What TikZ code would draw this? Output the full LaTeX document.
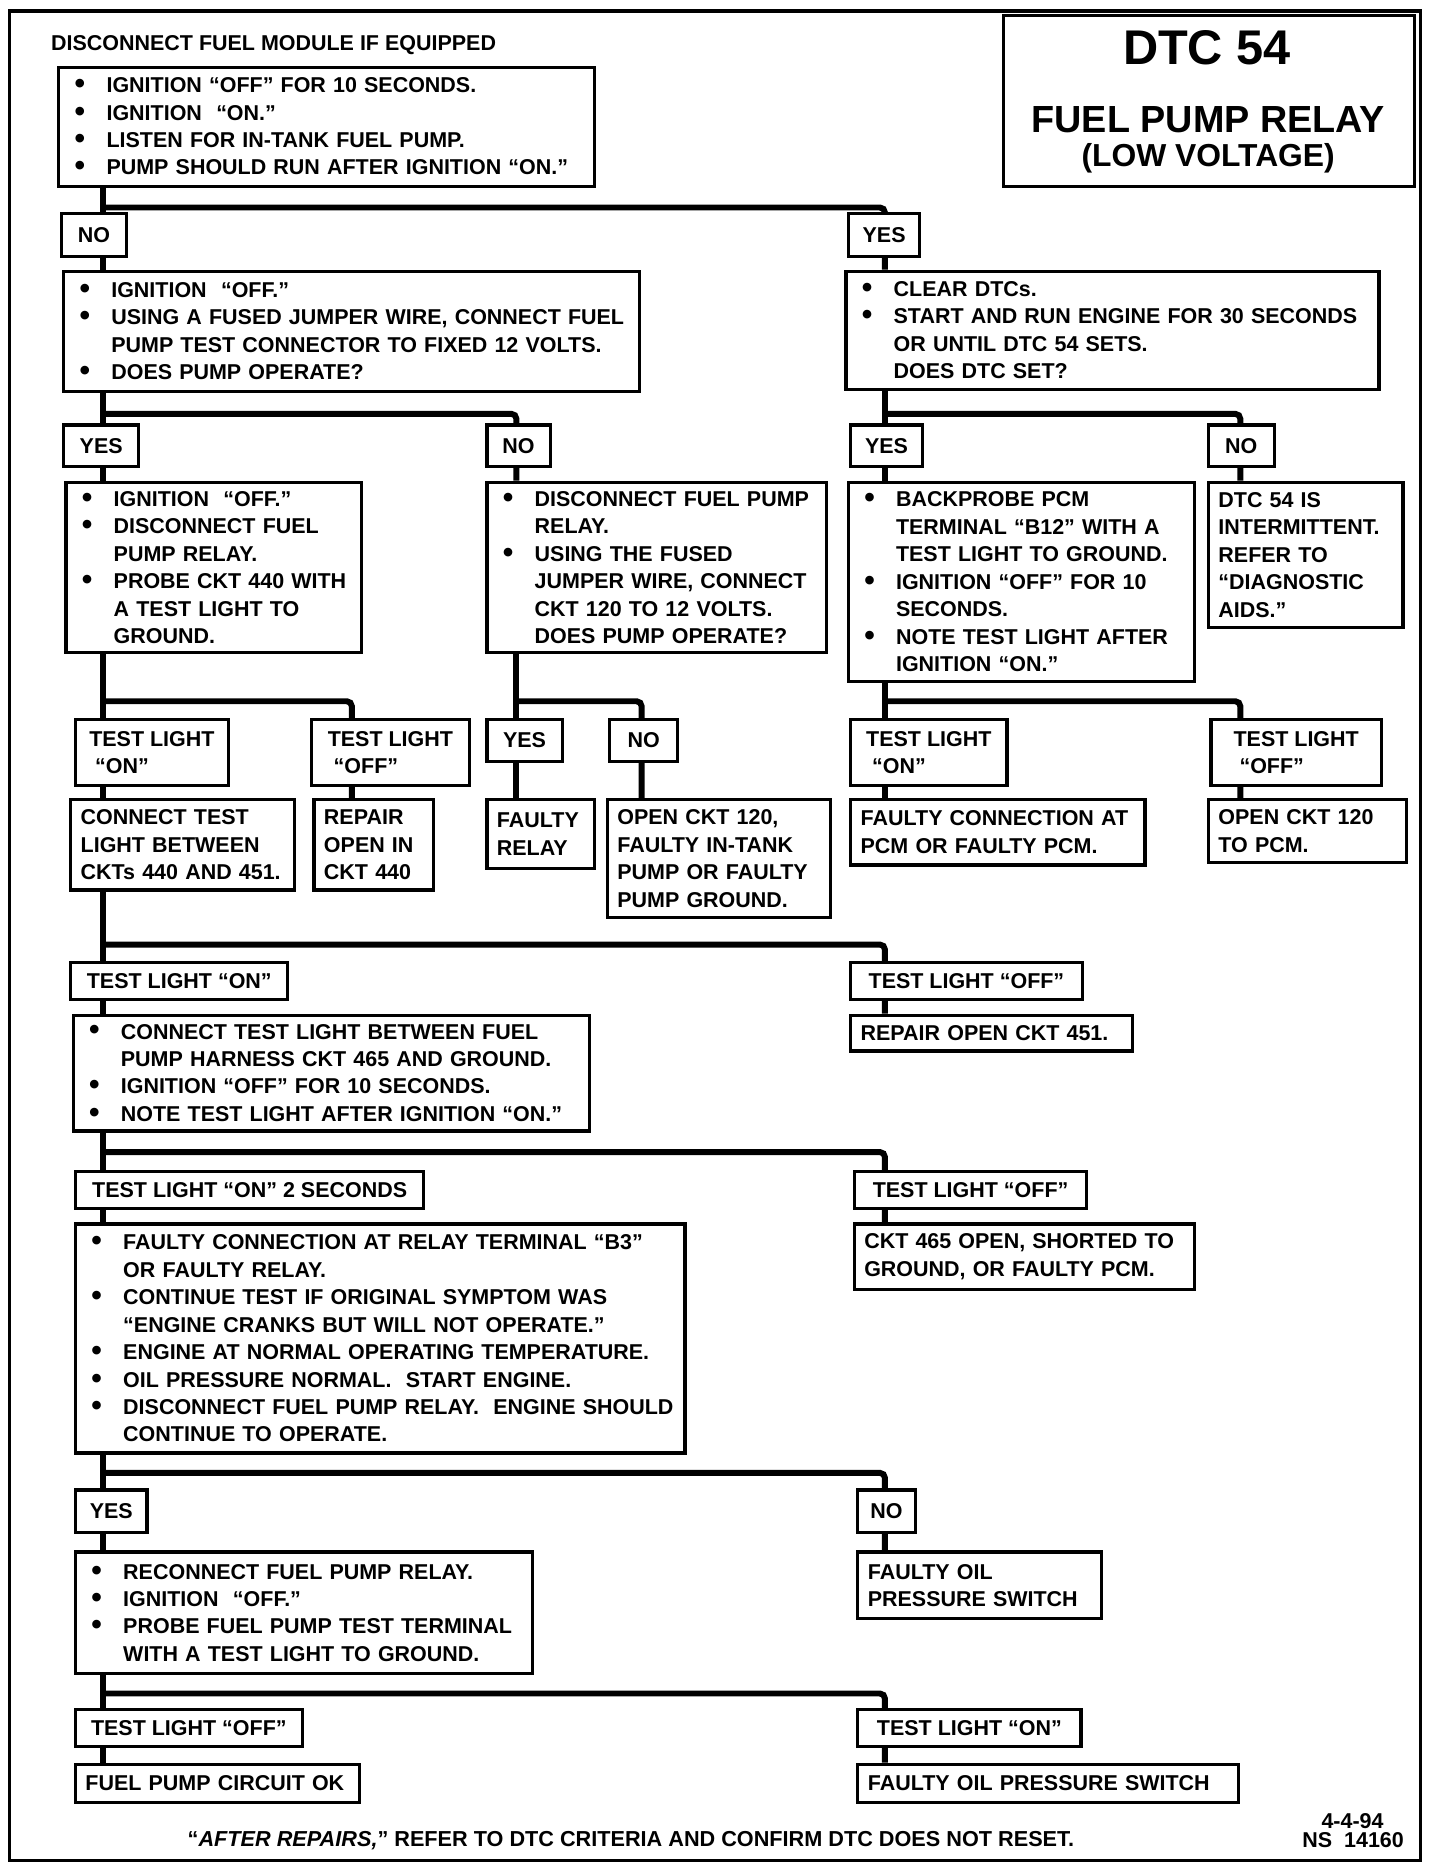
\documentclass[tikz,border=0pt]{standalone}
\usepackage{fontspec}
\setmainfont{Liberation Sans}
\usetikzlibrary{backgrounds}

\newcommand{\bu}{\makebox[19pt][l]{\hspace{3pt}\raisebox{-0.5pt}{\scalebox{1.4}{\textbullet}}}}
\newcommand{\ind}{\hspace*{19pt}}

\begin{document}
\begin{tikzpicture}[x=0.6pt,y=-0.6pt,
  every node/.style={font=\bfseries\fontsize{10.8}{13.8}\selectfont},
  box/.style={draw,line width=1.6pt,fill=white,anchor=north west,align=left,inner xsep=5pt,inner ysep=1pt},
  tag/.style={box,minimum height=21pt},
  link/.style={line width=3pt,rounded corners=2.5pt}]
\useasboundingbox (0,0) rectangle (1207,1568);
\draw[line width=1.9pt] (8,9) rectangle (1191,1560);

\node[box,minimum width=207pt,minimum height=85.8pt] (ttl) at (840,12) {};
\node[font=\bfseries\fontsize{24.5}{24}\selectfont] (ttlA) at (1012,40) {DTC 54};
\node[font=\bfseries\fontsize{19}{19}\selectfont] (ttlB) at (1013,100) {FUEL PUMP RELAY};
\node[font=\bfseries\fontsize{16}{16}\selectfont] (ttlC) at (1013,133) {(LOW VOLTAGE)};
\node[anchor=west] (hdr) at (37,38) {DISCONNECT FUEL MODULE IF EQUIPPED};

\node[box,text width=259.4pt,minimum height=60pt] (start) at (48,55)
  {\bu IGNITION “OFF” FOR 10 SECONDS.\\ \bu IGNITION\ \ “ON.”\\ \bu LISTEN FOR IN-TANK FUEL PUMP.\\ \bu PUMP SHOULD RUN AFTER IGNITION “ON.”};
\node[tag,minimum width=33pt,minimum height=21.6pt] (noA) at (50,178) {NO};
\node[tag,minimum width=36pt,minimum height=21.6pt] (yesA) at (710,178) {YES};
\node[box,text width=279.8pt,minimum height=60.6pt] (jumpq) at (52,226)
  {\bu IGNITION\ \ “OFF.”\\ \bu USING A FUSED JUMPER WIRE, CONNECT FUEL\\ \ind PUMP TEST CONNECTOR TO FIXED 12 VOLTS.\\ \bu DOES PUMP OPERATE?};
\node[box,text width=258.2pt,minimum height=59.4pt] (clearq) at (708,226)
  {\bu CLEAR DTCs.\\ \bu START AND RUN ENGINE FOR 30 SECONDS\\ \ind OR UNTIL DTC 54 SETS.\\ \ind DOES DTC SET?};

\node[tag,minimum width=37.8pt] (yesB) at (52,355) {YES};
\node[tag,minimum width=31.8pt] (noB) at (407,355) {NO};
\node[tag,minimum width=36pt] (yesC) at (712,355) {YES};
\node[tag,minimum width=33pt] (noC) at (1012,355) {NO};

\node[box,text width=138.6pt,minimum height=85.8pt] (probe) at (54,403)
  {\bu IGNITION\ \ “OFF.”\\ \bu DISCONNECT FUEL\\ \ind PUMP RELAY.\\ \bu PROBE CKT 440 WITH\\ \ind A TEST LIGHT TO\\ \ind GROUND.};
\node[box,text width=161pt,minimum height=85.8pt] (relayq) at (407,403)
  {\bu DISCONNECT FUEL PUMP\\ \ind RELAY.\\ \bu USING THE FUSED\\ \ind JUMPER WIRE, CONNECT\\ \ind CKT 120 TO 12 VOLTS.\\ \ind DOES PUMP OPERATE?};
\node[box,text width=164pt,minimum height=100.2pt] (bprobe) at (710,403)
  {\bu BACKPROBE PCM\\ \ind TERMINAL “B12” WITH A\\ \ind TEST LIGHT TO GROUND.\\ \bu IGNITION “OFF” FOR 10\\ \ind SECONDS.\\ \bu NOTE TEST LIGHT AFTER\\ \ind IGNITION “ON.”};
\node[box,text width=87.8pt,minimum height=73.2pt] (intermit) at (1012,403)
  {DTC 54 IS\\ INTERMITTENT.\\ REFER TO\\ “DIAGNOSTIC\\ AIDS.”};

\node[tag,minimum width=76.8pt,minimum height=33pt] (onA) at (62,602) {TEST LIGHT\\ \ “ON”};
\node[tag,minimum width=79.2pt,minimum height=33pt] (offA) at (260,602) {TEST LIGHT\\ \ “OFF”};
\node[tag,minimum width=37.8pt] (yesD) at (407,602) {YES};
\node[tag,minimum width=34.2pt] (noD) at (510,602) {NO};
\node[tag,minimum width=78.6pt,minimum height=33pt] (onB) at (712,602) {TEST LIGHT\\ \ “ON”};
\node[tag,minimum width=85.8pt,minimum height=33pt] (offB) at (1014,602) {TEST LIGHT\\ \ “OFF”};

\node[box,text width=102.5pt,minimum height=45.6pt] (conn) at (58,669) {CONNECT TEST\\ LIGHT BETWEEN\\ CKTs 440 AND 451.};
\node[box,text width=50pt,minimum height=45.6pt] (rep440) at (262,669) {REPAIR\\ OPEN IN\\ CKT 440};
\node[box,text width=44pt,minimum height=34.8pt] (fltrelay) at (407,669) {FAULTY\\ RELAY};
\node[box,text width=102.2pt,minimum height=59.4pt] (open120) at (508,669) {OPEN CKT 120,\\ FAULTY IN-TANK\\ PUMP OR FAULTY\\ PUMP GROUND.};
\node[box,text width=138pt,minimum height=33pt] (fltpcm) at (712,669) {FAULTY CONNECTION AT\\ PCM OR FAULTY PCM.};
\node[box,text width=89.6pt,minimum height=31.8pt] (openpcm) at (1012,669) {OPEN CKT 120\\ TO PCM.};

\node[tag,minimum width=109.2pt,minimum height=18.6pt] (onC) at (58,806) {TEST LIGHT “ON”};
\node[tag,minimum width=116.4pt,minimum height=18.6pt] (offC) at (712,806) {TEST LIGHT “OFF”};
\node[box,text width=249.8pt,minimum height=58.2pt] (harness) at (60,850)
  {\bu CONNECT TEST LIGHT BETWEEN FUEL\\ \ind PUMP HARNESS CKT 465 AND GROUND.\\ \bu IGNITION “OFF” FOR 10 SECONDS.\\ \bu NOTE TEST LIGHT AFTER IGNITION “ON.”};
\node[box,text width=131.6pt,minimum height=18pt] (rep451) at (712,850) {REPAIR OPEN CKT 451.};

\node[tag,minimum width=175.2pt,minimum height=18.6pt] (onD) at (62,981) {TEST LIGHT “ON” 2 SECONDS};
\node[tag,minimum width=117pt,minimum height=18.6pt] (offD) at (715,981) {TEST LIGHT “OFF”};
\node[box,text width=296.6pt,minimum height=115.2pt] (relayterm) at (62,1025)
  {\bu FAULTY CONNECTION AT RELAY TERMINAL “B3”\\ \ind OR FAULTY RELAY.\\ \bu CONTINUE TEST IF ORIGINAL SYMPTOM WAS\\ \ind “ENGINE CRANKS BUT WILL NOT OPERATE.”\\ \bu ENGINE AT NORMAL OPERATING TEMPERATURE.\\ \bu OIL PRESSURE NORMAL.\ \ START ENGINE.\\ \bu DISCONNECT FUEL PUMP RELAY.\ \ ENGINE SHOULD\\ \ind CONTINUE TO OPERATE.};
\node[box,text width=161pt,minimum height=33pt] (ckt465) at (715,1025) {CKT 465 OPEN, SHORTED TO\\ GROUND, OR FAULTY PCM.};

\node[tag,minimum width=36pt,minimum height=21.6pt] (yesE) at (62,1248) {YES};
\node[tag,minimum width=28.8pt,minimum height=21.6pt] (noE) at (718,1248) {NO};
\node[box,text width=219.8pt,minimum height=61.2pt] (reconn) at (62,1300)
  {\bu RECONNECT FUEL PUMP RELAY.\\ \bu IGNITION\ \ “OFF.”\\ \bu PROBE FUEL PUMP TEST TERMINAL\\ \ind WITH A TEST LIGHT TO GROUND.};
\node[box,text width=112.4pt,minimum height=33.6pt] (oilsw) at (718,1300) {FAULTY OIL\\ PRESSURE SWITCH};

\node[tag,minimum width=114pt,minimum height=18.6pt] (offE) at (62,1432) {TEST LIGHT “OFF”};
\node[tag,minimum width=112.2pt,minimum height=18.6pt] (onE) at (718,1432) {TEST LIGHT “ON”};
\node[box,text width=132.8pt,minimum height=19.2pt] (pumpok) at (62,1478) {FUEL PUMP CIRCUIT OK};
\node[box,text width=181.4pt,minimum height=19.2pt] (oilsw2) at (718,1478) {FAULTY OIL PRESSURE SWITCH};

\node[font=\bfseries\fontsize{10.9}{12}\selectfont] (foot) at (529,1543) {“\textit{AFTER REPAIRS,}” REFER TO DTC CRITERIA AND CONFIRM DTC DOES NOT RESET.};
\node[anchor=east] (date) at (1166,1527) {4-4-94};
\node[anchor=east] (nsno) at (1183,1543) {NS\ \ 14160};

\coordinate (jA) at (86,174);   \coordinate (kA) at (742,174);
\coordinate (jB) at (86,347);   \coordinate (kB) at (433,347);
\coordinate (jC) at (742,347);  \coordinate (kC) at (1040,347);
\coordinate (jD) at (86,588);   \coordinate (kD) at (295,588);
\coordinate (jE) at (433,588);  \coordinate (kE) at (538,588);
\coordinate (jF) at (742,588);  \coordinate (kF) at (1040,588);
\coordinate (jG) at (86,792);   \coordinate (kG) at (742,792);
\coordinate (jH) at (86,966);   \coordinate (kH) at (742,966);
\coordinate (jI) at (86,1235);  \coordinate (kI) at (742,1235);
\coordinate (jJ) at (86,1420);  \coordinate (kJ) at (742,1420);

\begin{scope}[on background layer]
\draw[link] (start.south -| jA) -- (jumpq.north -| jA);
\draw[link] (jA) -- (kA) -- (clearq.north -| kA);
\draw[link] (jumpq.south -| jB) -- (probe.north -| jB);
\draw[link] (jB) -- (kB) -- (relayq.north -| kB);
\draw[link] (clearq.south -| jC) -- (bprobe.north -| jC);
\draw[link] (jC) -- (kC) -- (intermit.north -| kC);
\draw[link] (probe.south -| jD) -- (conn.north -| jD);
\draw[link] (jD) -- (kD) -- (rep440.north -| kD);
\draw[link] (relayq.south -| jE) -- (fltrelay.north -| jE);
\draw[link] (jE) -- (kE) -- (open120.north -| kE);
\draw[link] (bprobe.south -| jF) -- (fltpcm.north -| jF);
\draw[link] (jF) -- (kF) -- (openpcm.north -| kF);
\draw[link] (conn.south -| jG) -- (harness.north -| jG);
\draw[link] (jG) -- (kG) -- (rep451.north -| kG);
\draw[link] (harness.south -| jH) -- (relayterm.north -| jH);
\draw[link] (jH) -- (kH) -- (ckt465.north -| kH);
\draw[link] (relayterm.south -| jI) -- (reconn.north -| jI);
\draw[link] (jI) -- (kI) -- (oilsw.north -| kI);
\draw[link] (reconn.south -| jJ) -- (pumpok.north -| jJ);
\draw[link] (jJ) -- (kJ) -- (oilsw2.north -| kJ);
\end{scope}
\end{tikzpicture}
\end{document}
